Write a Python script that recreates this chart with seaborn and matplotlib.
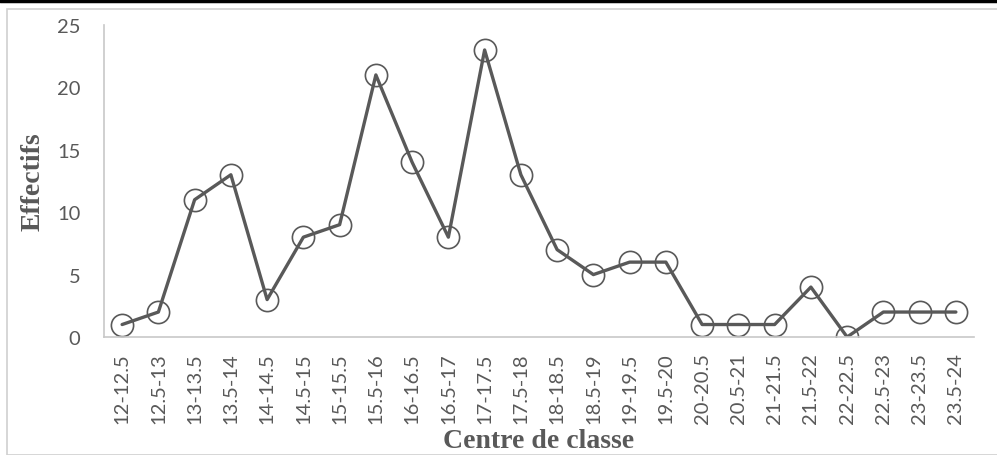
import matplotlib
matplotlib.use("Agg")
import matplotlib.pyplot as plt
import seaborn as sns
import pandas as pd
from matplotlib.patches import Rectangle
from matplotlib.lines import Line2D

# Class intervals and counts
classes = ["12-12.5", "12.5-13", "13-13.5", "13.5-14", "14-14.5", "14.5-15",
           "15-15.5", "15.5-16", "16-16.5", "16.5-17", "17-17.5", "17.5-18",
           "18-18.5", "18.5-19", "19-19.5", "19.5-20", "20-20.5", "20.5-21",
           "21-21.5", "21.5-22", "22-22.5", "22.5-23", "23-23.5", "23.5-24"]
effectifs = [1, 2, 11, 13, 3, 8, 9, 21, 14, 8, 23, 13,
             7, 5, 6, 6, 1, 1, 1, 4, 0, 2, 2, 2]
yticks = [0, 5, 10, 15, 20, 25]

df = pd.DataFrame({"classe": classes, "effectif": effectifs})
df["pos"] = range(len(df))

sns.set_style("white")
plt.rcParams["font.family"] = ["Lato", "DejaVu Sans"]

grey = "#595959"
fig = plt.figure(figsize=(9.97, 4.56), dpi=100)
ax = fig.add_axes([104 / 997, 1 - 338 / 456, (974 - 104) / 997, (338 - 26) / 456])

sns.lineplot(data=df, x="pos", y="effectif", ax=ax, color=grey, linewidth=2.4,
             marker="o", markersize=16, markerfacecolor="none",
             markeredgecolor=grey, markeredgewidth=1.2)

ax.set_xlim(-0.5, len(classes) - 0.5)
ax.set_ylim(0, 25)
ax.set_xticks(df["pos"])
ax.set_xticklabels(classes, rotation=90, fontsize=14.5, color=grey)
ax.set_yticks(yticks)
ax.set_yticklabels([str(t) for t in yticks], fontsize=14.5, color=grey)
ax.tick_params(axis="x", length=0, pad=11)
ax.tick_params(axis="y", length=0, pad=17)

for s in ["top", "right"]:
    ax.spines[s].set_visible(False)
for s in ["left", "bottom"]:
    ax.spines[s].set_color("#c8c8c8")
    ax.spines[s].set_linewidth(1.2)

ax.set_xlabel("")
ax.set_ylabel("")
fig.text(539 / 997, 1 - 442 / 456, "Centre de classe", ha="center", va="center",
         fontsize=20, fontweight="bold", family="Liberation Serif", color=grey)
fig.text(33 / 997, 1 - 182 / 456, "Effectifs", ha="center", va="center",
         rotation=90, fontsize=20, fontweight="bold", family="Liberation Serif", color=grey)

# outer frame and top rule
fig.patches.append(Rectangle((7 / 997, 0), 1.0, 1 - 10 / 456, transform=fig.transFigure,
                             fill=False, edgecolor="#d0d0d0", linewidth=1.2))
fig.lines.append(Line2D([0, 1], [1 - 2 / 456, 1 - 2 / 456], transform=fig.transFigure,
                        color="black", linewidth=2.5))

fig.savefig("out.png", dpi=100)
plt.close()
